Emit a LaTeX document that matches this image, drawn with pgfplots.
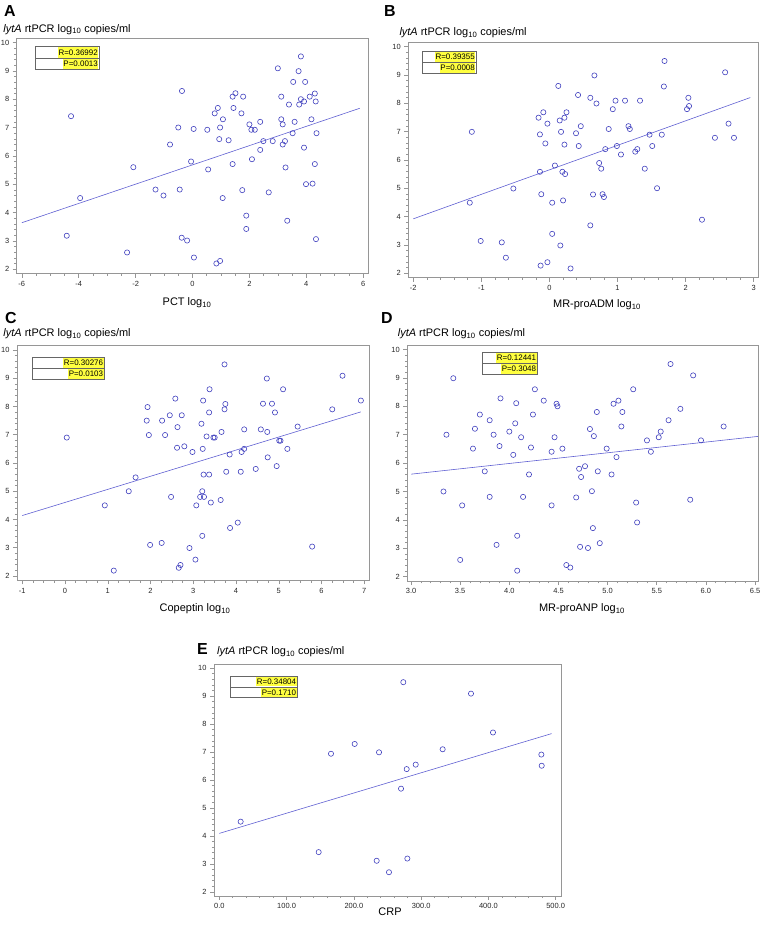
\documentclass[border=0pt]{standalone}
\usepackage{fontspec}
\setmainfont{Liberation Sans}
\usepackage{pgfplots}
\pgfplotsset{compat=1.18}
\definecolor{ptblue}{RGB}{64,64,190}
\definecolor{lnblue}{RGB}{96,96,210}
\definecolor{axgray}{RGB}{150,150,150}
\definecolor{hl}{RGB}{255,255,64}
\pgfplotsset{
  panel/.style={
    scale only axis, anchor=south west,
    axis line style={draw=axgray, line width=0.7bp},
    tick align=outside, xtick pos=bottom, ytick pos=left,
    major tick length=4bp, minor tick length=2.2bp,
    tick style={draw=axgray, line width=0.6bp},
    tick label style={font=\fontsize{7.5}{8}\selectfont, text=black!85},
    ymin=1.84, ymax=10.16,
    ytick={2,3,4,5,6,7,8,9,10}, yticklabels={2,3,4,5,6,7,8,9,10},
    minor y tick num=4,
  },
  pts/.style={only marks, mark=o, mark size=2.6bp, mark options={draw=ptblue, line width=0.6bp}},
  fitl/.style={no marks, draw=lnblue, line width=0.6bp},
}
\newcommand{\ylab}{\textit{lytA} rtPCR log\textsubscript{10} copies/ml}
\newcommand{\rpbox}[6]{%
  \pgfmathsetmacro\ymid{(#2+#4)/2}%
  \pgfmathsetmacro\rone{(#2+\ymid)/2}%
  \pgfmathsetmacro\rtwo{(\ymid+#4)/2}%
  \pgfmathsetmacro\rh{(#4-#2)/2-0.8}%
  \fill[white] (#1,#2) rectangle (#3,#4);
  \node[anchor=east, fill=hl, inner xsep=0.6bp, inner ysep=0pt, minimum height=\rh bp,
        font=\fontsize{8}{9}\selectfont] at (#3-0.4,\rone) {#5};
  \node[anchor=east, fill=hl, inner xsep=0.6bp, inner ysep=0pt, minimum height=\rh bp,
        font=\fontsize{8}{9}\selectfont] at (#3-0.4,\rtwo) {#6};
  \draw[black!60, line width=0.6bp] (#1,#2) rectangle (#3,#4);
  \draw[black!60, line width=0.6bp] (#1,\ymid) -- (#3,\ymid);
}
\begin{document}
\begin{tikzpicture}
\path[use as bounding box] (0,0) rectangle (762bp,928bp);

% ---------------- A ----------------
\begin{axis}[panel, at={(16.7bp,654.3bp)}, width=351.6bp, height=235.7bp,
  xmin=-6.18, xmax=6.18, xtick={-6,-4,-2,0,2,4,6}, xticklabels={-6,-4,-2,0,2,4,6},
  minor x tick num=3]
\addplot[pts] coordinates {
(-4.27,7.40) (-3.95,4.51) (-4.42,3.18) (-2.08,5.60) (-2.30,2.59) (-1.30,4.81)
(-1.02,4.60) (-0.79,6.40) (-0.37,8.29) (-0.50,7.00) (-0.45,4.81) (-0.38,3.11)
(-0.19,3.01) (-0.05,5.80) (0.04,6.95) (0.05,2.41) (0.52,6.92) (0.55,5.52)
(0.78,7.50) (0.89,7.69) (0.94,6.59) (0.97,7.00) (1.07,7.29) (1.06,4.51)
(0.97,2.29) (0.84,2.20) (1.27,6.55) (1.41,8.09) (1.51,8.21) (1.44,7.69)
(1.41,5.71) (1.72,7.50) (1.78,8.09) (1.75,4.79) (1.89,3.89) (1.89,3.42)
(2.00,7.11) (2.07,6.92) (2.19,6.92) (2.09,5.88) (2.38,7.20) (2.38,6.21)
(2.49,6.52) (2.68,4.71) (2.82,6.52) (3.00,9.09) (3.12,8.09) (3.12,7.29)
(3.17,7.11) (3.17,6.40) (3.25,6.52) (3.27,5.59) (3.33,3.71) (3.39,7.81)
(3.54,8.61) (3.52,6.80) (3.59,7.20) (3.73,8.99) (3.75,7.81) (3.81,9.51)
(3.81,8.00) (3.92,7.92) (3.92,6.29) (3.96,8.61) (3.99,5.00) (4.12,8.09)
(4.18,7.29) (4.22,5.02) (4.30,8.20) (4.33,7.92) (4.30,5.71) (4.36,6.80)
(4.34,3.06)};
\addplot[fitl] coordinates {(-6,3.64) (5.88,7.68)};
\end{axis}

% ---------------- B ----------------
\begin{axis}[panel, at={(408.3bp,650.2bp)}, width=350.4bp, height=235.8bp,
  xmin=-2.073, xmax=3.073, xtick={-2,-1,0,1,2,3}, xticklabels={-2,-1,0,1,2,3},
  minor x tick num=4]
\addplot[pts] coordinates {
(-1.14,6.99) (-1.17,4.49) (-1.01,3.14) (-0.70,3.09) (-0.64,2.55) (-0.53,4.99)
(-0.16,7.49) (-0.09,7.68) (-0.14,6.90) (-0.06,6.58) (-0.03,7.28) (-0.14,5.58)
(-0.12,4.79) (-0.13,2.27) (-0.03,2.39) (0.08,5.80) (0.04,4.49) (0.04,3.39)
(0.13,8.61) (0.15,7.39) (0.17,6.99) (0.16,2.98) (0.19,5.58) (0.20,4.57)
(0.22,7.49) (0.25,7.68) (0.22,6.54) (0.23,5.50) (0.31,2.17) (0.39,6.94)
(0.42,8.29) (0.46,7.19) (0.43,6.49) (0.60,8.19) (0.60,3.69) (0.64,4.78)
(0.66,8.98) (0.69,7.99) (0.73,5.89) (0.76,5.69) (0.78,4.79) (0.80,4.69)
(0.82,6.38) (0.87,7.09) (0.93,7.79) (0.97,8.09) (0.99,6.49) (1.05,6.19)
(1.11,8.09) (1.16,7.19) (1.18,7.09) (1.26,6.29) (1.29,6.38) (1.33,8.09)
(1.40,5.69) (1.47,6.89) (1.51,6.49) (1.58,5.00) (1.65,6.89) (1.68,8.59)
(1.69,9.49) (2.02,7.79) (2.04,8.19) (2.05,7.90) (2.24,3.89) (2.43,6.78)
(2.58,9.09) (2.63,7.28) (2.71,6.78)};
\addplot[fitl] coordinates {(-2,3.92) (2.95,8.20)};
\end{axis}

% ---------------- C ----------------
\begin{axis}[panel, at={(17bp,347.5bp)}, width=352.6bp, height=235bp,
  xmin=-1.124, xmax=7.124, xtick={-1,0,1,2,3,4,5,6,7}, xticklabels={-1,0,1,2,3,4,5,6,7},
  minor x tick num=3]
\addplot[pts] coordinates {
(0.04,6.90) (0.93,4.50) (1.14,2.19) (1.49,5.00) (1.65,5.49) (1.91,7.50)
(1.93,7.98) (1.96,6.99) (1.99,3.10) (2.26,3.17) (2.27,7.50) (2.34,6.99)
(2.45,7.69) (2.48,4.80) (2.58,8.28) (2.62,6.54) (2.63,7.27) (2.66,2.29)
(2.70,2.39) (2.73,7.69) (2.79,6.59) (2.91,2.99) (2.98,6.39) (3.05,2.58)
(3.07,4.50) (3.16,4.80) (3.19,7.39) (3.22,6.50) (3.21,5.00) (3.25,4.80)
(3.21,3.42) (3.23,8.21) (3.24,5.59) (3.31,6.94) (3.37,5.59) (3.37,7.79)
(3.38,8.61) (3.41,4.60) (3.47,6.90) (3.50,6.90) (3.64,4.69) (3.66,7.10)
(3.73,9.49) (3.73,7.90) (3.75,8.09) (3.77,5.69) (3.85,6.30) (3.86,3.70)
(4.04,3.89) (4.11,5.69) (4.13,6.39) (4.19,6.50) (4.19,7.19) (4.46,5.79)
(4.58,7.19) (4.63,8.10) (4.72,8.99) (4.73,7.10) (4.74,6.20) (4.84,8.10)
(4.91,7.79) (4.95,5.89) (5.01,6.79) (5.04,6.79) (5.10,8.61) (5.20,6.50)
(5.44,7.29) (5.78,3.04) (6.25,7.90) (6.49,9.09) (6.92,8.21)};
\addplot[fitl] coordinates {(-1,4.14) (6.92,7.81)};
\end{axis}

% ---------------- D ----------------
\begin{axis}[panel, at={(407.3bp,346.8bp)}, width=351.4bp, height=236.2bp,
  xmin=2.962, xmax=6.537, xtick={3,3.5,4,4.5,5,5.5,6,6.5},
  xticklabels={3.0,3.5,4.0,4.5,5.0,5.5,6.0,6.5}, minor x tick num=4]
\addplot[pts] coordinates {
(3.33,5.00) (3.36,7.00) (3.43,8.99) (3.50,2.59) (3.52,4.51) (3.63,6.51)
(3.65,7.21) (3.70,7.71) (3.75,5.71) (3.80,7.51) (3.80,4.81) (3.84,7.00)
(3.87,3.12) (3.90,6.60) (3.91,8.28) (4.00,7.11) (4.04,6.29) (4.06,7.40)
(4.07,8.11) (4.08,3.44) (4.08,2.21) (4.12,6.91) (4.14,4.81) (4.20,5.60)
(4.22,6.55) (4.24,7.71) (4.26,8.60) (4.35,8.20) (4.43,6.40) (4.43,4.51)
(4.46,6.91) (4.48,8.09) (4.49,8.00) (4.54,6.51) (4.58,2.41) (4.62,2.32)
(4.68,4.79) (4.71,5.80) (4.72,3.05) (4.73,5.51) (4.77,5.89) (4.80,3.01)
(4.82,7.20) (4.84,5.01) (4.86,6.95) (4.85,3.71) (4.89,7.80) (4.90,5.71)
(4.92,3.18) (4.99,6.51) (5.04,5.60) (5.06,8.09) (5.09,6.21) (5.11,8.20)
(5.14,7.29) (5.15,7.80) (5.26,8.60) (5.29,4.61) (5.30,3.91) (5.40,6.80)
(5.44,6.40) (5.52,6.91) (5.54,7.11) (5.62,7.51) (5.64,9.49) (5.74,7.91)
(5.84,4.71) (5.87,9.09) (5.95,6.80) (6.18,7.29)};
\addplot[fitl] coordinates {(3.0,5.61) (6.53,6.94)};
\end{axis}

% ---------------- E ----------------
\begin{axis}[panel, at={(214bp,32bp)}, width=347bp, height=232bp,
  xmin=-7.9, xmax=507.9, ymin=1.85, ymax=10.15,
  xtick={0,100,200,300,400,500},
  xticklabels={0.0,100.0,200.0,300.0,400.0,500.0}, minor x tick num=4]
\addplot[pts] coordinates {
(31.7,4.51) (147.7,3.42) (166.0,6.94) (201.2,7.29) (233.9,3.11) (237.4,6.99)
(252.2,2.70) (270.1,5.69) (273.5,9.50) (278.5,6.39) (279.5,3.19) (291.9,6.55)
(332.0,7.10) (374.1,9.09) (406.8,7.70) (478.7,6.91) (479.2,6.51)};
\addplot[fitl] coordinates {(0,4.09) (494,7.66)};
\end{axis}

% ---------------- annotations (pixel coordinates) ----------------
\begin{scope}[x=1bp, y=-1bp, yshift=928bp]
  \rpbox{35.7}{46.7}{99}{69.3}{R=0.36992}{P=0.0013}
  \rpbox{422.3}{51.7}{476}{73.3}{R=0.39355}{P=0.0008}
  \rpbox{32.3}{357.3}{104.3}{379.3}{R=0.30276}{P=0.0103}
  \rpbox{482.3}{352.3}{537.3}{374.3}{R=0.12441}{P=0.3048}
  \rpbox{230.7}{676}{297.3}{697.7}{R=0.34804}{P=0.1710}

  \begin{scope}[every node/.style={inner sep=0pt}]
  \node[anchor=base west, font=\fontsize{16}{18}\selectfont\bfseries] at (4,16.7) {A};
  \node[anchor=base west, font=\fontsize{16}{18}\selectfont\bfseries] at (384,16.7) {B};
  \node[anchor=base west, font=\fontsize{16}{18}\selectfont\bfseries] at (5,323.3) {C};
  \node[anchor=base west, font=\fontsize{16}{18}\selectfont\bfseries] at (381,323.3) {D};
  \node[anchor=base west, font=\fontsize{16}{18}\selectfont\bfseries] at (197,655) {E};

  \node[anchor=base west, font=\fontsize{11}{12}\selectfont] at (3.3,32.3) {\ylab};
  \node[anchor=base west, font=\fontsize{11}{12}\selectfont] at (399.3,36) {\ylab};
  \node[anchor=base west, font=\fontsize{11}{12}\selectfont] at (3.3,336.7) {\ylab};
  \node[anchor=base west, font=\fontsize{11}{12}\selectfont] at (397.7,336.7) {\ylab};
  \node[anchor=base west, font=\fontsize{11}{12}\selectfont] at (217,655) {\ylab};

  \node[anchor=base, font=\fontsize{11}{12}\selectfont] at (187,306) {PCT log\textsubscript{10}};
  \node[anchor=base, font=\fontsize{11}{12}\selectfont] at (597,308) {MR-proADM log\textsubscript{10}};
  \node[anchor=base, font=\fontsize{11}{12}\selectfont] at (195,612) {Copeptin log\textsubscript{10}};
  \node[anchor=base, font=\fontsize{11}{12}\selectfont] at (582,612) {MR-proANP log\textsubscript{10}};
  \node[anchor=base, font=\fontsize{11}{12}\selectfont] at (390,916) {CRP};
  \end{scope}
\end{scope}
\end{tikzpicture}
\end{document}
